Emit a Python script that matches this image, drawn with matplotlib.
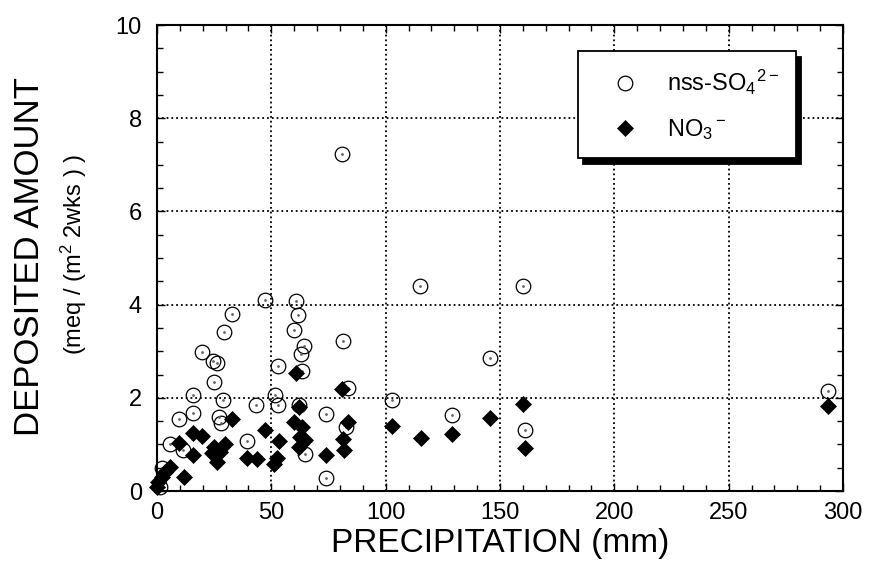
import numpy as np
import matplotlib
matplotlib.use("Agg")
import matplotlib.pyplot as plt
from matplotlib.ticker import MultipleLocator

plt.rcParams['font.family'] = ['Liberation Sans', 'DejaVu Sans']
plt.rcParams['mathtext.fontset'] = 'custom'
plt.rcParams['mathtext.rm'] = 'Liberation Sans'
plt.rcParams['mathtext.it'] = 'Liberation Sans:italic'

# nss-SO4 2- : precipitation (mm), deposited amount
so4_precip = [1.3, 2.3, 5.7, 11.5, 9.4, 15.8, 15.8, 19.6, 24.5, 26.2, 24.7,
              26.9, 28.1, 28.7, 29.4, 32.8, 39.5, 43.2, 47.1, 51.6, 52.7, 52.9,
              59.8, 60.8, 61.7, 62.0, 63.0, 63.2, 64.2, 64.5, 73.7, 74.1, 80.7,
              81.4, 83.5, 82.5, 102.9, 115.0, 128.9, 145.8, 160.0, 161.0, 293.3]
so4_dep = [0.08, 0.49, 1.01, 0.88, 1.54, 1.68, 2.06, 2.99, 2.79, 2.75, 2.35,
           1.59, 1.45, 1.95, 3.42, 3.80, 1.07, 1.84, 4.11, 2.07, 1.85, 2.69,
           3.45, 4.07, 3.77, 1.85, 2.95, 2.58, 3.11, 0.80, 1.66, 0.28, 7.23,
           3.23, 2.22, 1.37, 1.95, 4.41, 1.64, 2.85, 4.41, 1.31, 2.14]

# NO3- : precipitation (mm), deposited amount
no3_precip = [0.0, 0.6, 2.0, 3.5, 5.7, 11.6, 9.8, 15.6, 19.6, 15.9, 24.7, 24.0,
              27.6, 29.8, 26.2, 32.8, 39.3, 43.7, 47.4, 51.0, 52.5, 53.2, 59.8,
              60.8, 62.0, 62.7, 63.5, 64.9, 62.0, 74.1, 81.0, 83.5, 81.4, 81.7,
              102.9, 115.4, 128.8, 145.8, 160.2, 161.0, 293.3]
no3_dep = [0.08, 0.20, 0.31, 0.41, 0.52, 0.31, 1.03, 1.25, 1.18, 0.77, 0.95,
           0.81, 0.84, 1.02, 0.63, 1.54, 0.72, 0.68, 1.32, 0.58, 0.70, 1.08,
           1.49, 2.54, 1.81, 1.17, 1.38, 1.09, 0.95, 0.77, 2.19, 1.49, 1.12,
           0.89, 1.39, 1.14, 1.22, 1.56, 1.86, 0.92, 1.83]

fig = plt.figure(figsize=(8.69, 5.71), dpi=100)
ax = fig.add_axes([0.1807, 0.140, 0.7894, 0.816])

ax.plot(so4_precip, so4_dep, ls='none', marker='o', ms=10.5, mfc='none',
        mec='black', mew=0.9, clip_on=False, label=r'nss-SO$_4$$^{2-}$', zorder=3)
ax.plot(so4_precip, so4_dep, ls='none', marker='o', ms=1.0, color='0.4',
        clip_on=False, zorder=3)
ax.plot(no3_precip, no3_dep, ls='none', marker='D', ms=8, color='black',
        mew=0.5, clip_on=False, label=r'NO$_3$$^-$', zorder=4)

ax.set_xlim(0, 300)
ax.set_ylim(0, 10)
ax.xaxis.set_major_locator(MultipleLocator(50))
ax.xaxis.set_minor_locator(MultipleLocator(10))
ax.yaxis.set_major_locator(MultipleLocator(2))
ax.yaxis.set_minor_locator(MultipleLocator(0.5))
ax.grid(True, which='major', ls=':', color='black', lw=1.3)
ax.tick_params(which='both', direction='in', top=True, right=True,
               labelsize=17, width=1.0)
ax.tick_params(which='major', length=6)
ax.tick_params(which='minor', length=4)
ax.tick_params(axis='x', pad=8)
ax.tick_params(axis='y', pad=11)
for s in ax.spines.values():
    s.set_linewidth(1.5)

leg = ax.legend(loc='upper right', bbox_to_anchor=(0.931, 0.944),
                borderaxespad=0, fontsize=17, frameon=True, fancybox=False,
                edgecolor='black', framealpha=1, borderpad=0.7,
                labelspacing=0.85, handlelength=2.6, handletextpad=0.5,
                shadow={'ox': 4, 'oy': -4, 'facecolor': 'black',
                        'edgecolor': 'black', 'alpha': 1})
leg.get_frame().set_linewidth(1.3)

fig.text(0.5755, 0.048, 'PRECIPITATION (mm)', ha='center', va='center',
         fontsize=24)
fig.text(0.034, 0.55, 'DEPOSITED AMOUNT', ha='center', va='center',
         rotation=90, fontsize=25)
fig.text(0.085, 0.555, r'(meq / (m$^{\mathregular{2}}$ 2wks ) )', ha='center',
         va='center', rotation=90, fontsize=17)

fig.savefig('out.png', dpi=100)
